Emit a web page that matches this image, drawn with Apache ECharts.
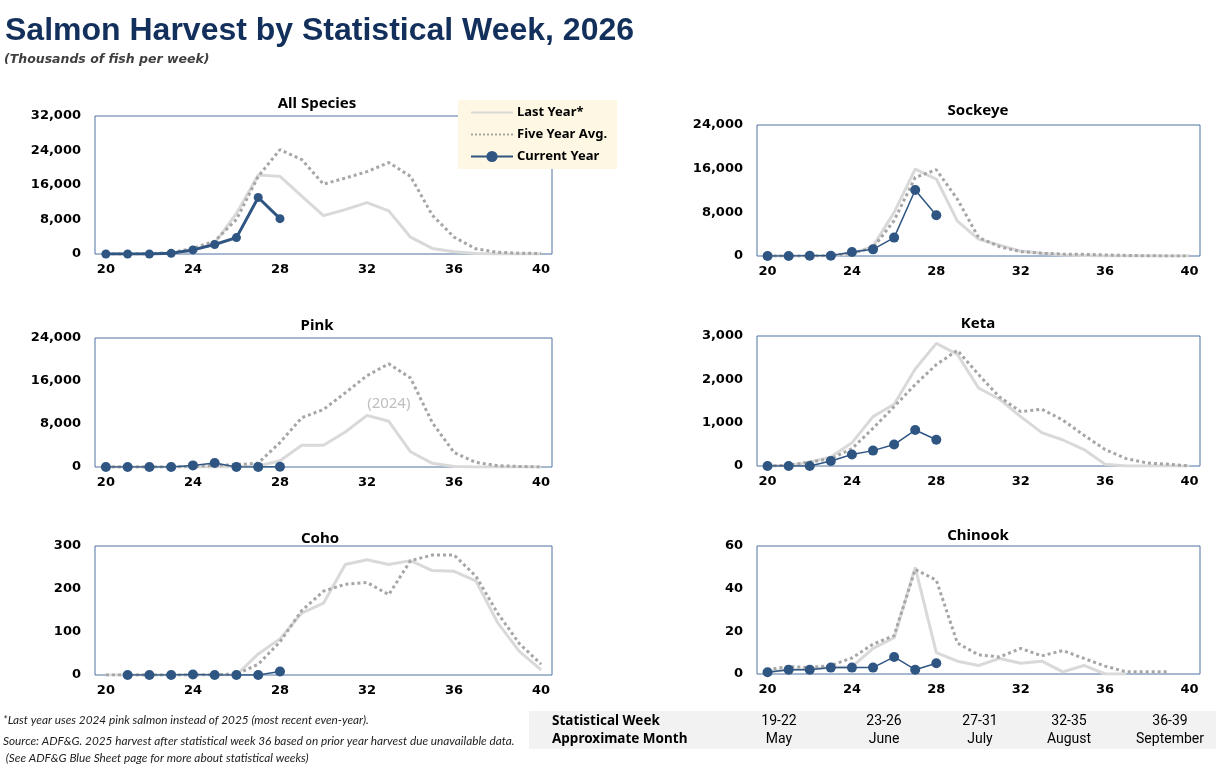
<!DOCTYPE html>
<html>
<head>
<meta charset="utf-8">
<title>Salmon Harvest by Statistical Week, 2026</title>
<script src="https://cdn.jsdelivr.net/npm/echarts@6/dist/echarts.min.js"></script>
<style>
    html, body { margin: 0; padding: 0; background: #fff; }
    #chart { width: 1216px; height: 770px; }
</style>
</head>
<body>
<div id="chart"></div>
<script>
// statistical weeks on the x axis
const weeks = ['20', '21', '22', '23', '24', '25', '26', '27', '28', '29', '30',
    '31', '32', '33', '34', '35', '36', '37', '38', '39', '40'];

// All Species
const allLast = [0, 0, 0, 200, 800, 2500, 9400, 18300, 18000, 13400, 8900, 10300, 11900, 10000, 3900, 1300, 500, 100, 0, 0, 0];
const allFive = [0, 0, 100, 300, 1300, 3000, 8000, 18000, 24200, 21900, 16200, 17600, 19100, 21200, 18000, 9000, 3900, 1200, 400, 200, 100];
const allCur = [0, 0, 0, 150, 950, 2200, 3800, 13100, 8200];

// Sockeye
const sockLast = [0, 0, 0, 100, 400, 1800, 8000, 15900, 14100, 6400, 3100, 2000, 900, 500, 200, 100, 0, 0, 0, 0, 0];
const sockFive = [0, 0, 0, 100, 500, 1500, 6500, 14400, 15800, 10400, 3400, 1700, 800, 500, 350, 300, 200, 100, 50, 0, 0];
const sockCur = [0, 0, 50, 50, 730, 1220, 3370, 12100, 7470];

// Pink (last year = 2024)
const pinkLast = [0, 0, 0, 0, 0, 0, 100, 200, 1170, 4060, 4060, 6500, 9600, 8500, 2830, 680, 100, 0, 0, 0, 0];
const pinkFive = [0, 0, 0, 0, 100, 300, 430, 740, 4550, 9170, 10700, 13800, 17000, 19200, 16550, 8250, 2700, 860, 250, 100, 0];
const pinkCur = [0, 0, 0, 0, 300, 740, 20, 20, 30];

// Keta
const ketaLast = [0, 10, 90, 210, 535, 1140, 1425, 2240, 2830, 2575, 1800, 1540, 1140, 770, 600, 380, 40, 0, 0, 0, 0];
const ketaFive = [0, 20, 90, 170, 400, 870, 1370, 1880, 2340, 2670, 2110, 1590, 1255, 1310, 1060, 710, 380, 170, 70, 40, 0];
const ketaCur = [0, 0, 0, 115, 265, 355, 495, 830, 605];

// Coho
const cohoLast = [0, 0, 0, 0, 0, 0, 0, 49, 84, 144, 167, 257, 268, 257, 266, 243, 241, 219, 122, 55, 12];
const cohoFive = [0, 0, 0, 0, 0, 1, 2, 25, 77, 150, 195, 211, 215, 187, 266, 279, 279, 230, 144, 73, 25];
const cohoCur = [null, 0, 0, 0, 1, 0, 0, 0, 8];

// Chinook
const chinLast = [1, 2, 2.5, 3, 3.3, 12, 17, 50, 10, 6, 4, 7.3, 5, 6, 1, 4, 0, 0, null, null, null];
const chinFive = [2, 3.5, 3, 4, 7.5, 14, 18, 49, 44, 14.5, 9, 8, 12, 8.5, 11, 7.3, 3.7, 1, 1, 1, null];
const chinCur = [0.8, 2, 2, 3, 3, 3, 8, 2, 5];

// bottom table
const weekRanges = ['19-22', '23-26', '27-31', '32-35', '36-39'];
const monthNames = ['May', 'June', 'July', 'August', 'September'];

const panels = [
    { name: 'All Species', last: allLast, five: allFive, cur: allCur, max: 32000, step: 8000,
      grid: { left: 95, top: 116, width: 457, height: 138 }, title: [317, 104], thick: true },
    { name: 'Sockeye', last: sockLast, five: sockFive, cur: sockCur, max: 24000, step: 8000,
      grid: { left: 757, top: 125, width: 443, height: 131 }, title: [978, 111] },
    { name: 'Pink', last: pinkLast, five: pinkFive, cur: pinkCur, max: 24000, step: 8000,
      grid: { left: 95, top: 338, width: 457, height: 129 }, title: [317, 326], note: 13 },
    { name: 'Keta', last: ketaLast, five: ketaFive, cur: ketaCur, max: 3000, step: 1000,
      grid: { left: 757, top: 336, width: 443, height: 130 }, title: [978, 324] },
    { name: 'Coho', last: cohoLast, five: cohoFive, cur: cohoCur, max: 300, step: 100,
      grid: { left: 95, top: 546, width: 457, height: 129 }, title: [320, 539] },
    { name: 'Chinook', last: chinLast, five: chinFive, cur: chinCur, max: 60, step: 20,
      grid: { left: 757, top: 546, width: 443, height: 128 }, title: [978, 536] }
];

const BLUE = '#2f5683';
const LIGHT = '#d9d9d9';
const DOT = '#a6a6a6';
const tickFont = { fontFamily: 'DejaVu Sans', fontWeight: 'bold', fontSize: 13, color: '#000' };

const grids = [], xAxes = [], yAxes = [], series = [], graphics = [];

panels.forEach(function (p, i) {
    grids.push(Object.assign({ show: true, borderColor: '#4f72a0', borderWidth: 1 }, p.grid));
    xAxes.push({
        type: 'category', gridIndex: i, data: weeks, boundaryGap: true,
        axisLine: { show: false }, axisTick: { show: false },
        axisLabel: Object.assign({ interval: 3, margin: 9 }, tickFont)
    });
    yAxes.push({
        type: 'value', gridIndex: i, min: 0, max: p.max, interval: p.step,
        axisLine: { show: false }, axisTick: { show: false }, splitLine: { show: false },
        axisLabel: Object.assign({ margin: 14 }, tickFont)
    });

    const last = {
        name: 'Last Year*', type: 'line', xAxisIndex: i, yAxisIndex: i, data: p.last,
        symbol: 'none', lineStyle: { color: LIGHT, width: 3 }, itemStyle: { color: LIGHT }, z: 2
    };
    // pink panel carries a "(2024)" note above last year's line
    if (p.note !== undefined) {
        last.markPoint = {
            symbol: 'circle', symbolSize: 1, itemStyle: { color: 'rgba(0,0,0,0)' },
            label: { show: true, formatter: '(2024)', position: 'top', distance: 10,
                color: '#bfbfbf', fontSize: 15, fontFamily: 'Noto Sans' },
            data: [{ coord: [weeks[p.note], p.last[p.note]] }]
        };
    }
    series.push(last);
    series.push({
        name: 'Five Year Avg.', type: 'line', xAxisIndex: i, yAxisIndex: i, data: p.five,
        symbol: 'none', lineStyle: { color: DOT, width: 3, type: 'dotted' }, itemStyle: { color: DOT }, z: 3
    });
    series.push({
        name: 'Current Year', type: 'line', xAxisIndex: i, yAxisIndex: i, data: p.cur,
        symbol: 'circle', symbolSize: p.thick ? 9 : 10, showSymbol: true,
        lineStyle: { color: BLUE, width: p.thick ? 3 : 1.5 }, itemStyle: { color: BLUE }, z: 4
    });

    graphics.push({
        type: 'text', x: p.title[0], y: p.title[1],
        style: { text: p.name, align: 'center', verticalAlign: 'middle',
            font: 'bold 15px "Noto Sans"', fill: '#000' }
    });
});

// heading
graphics.push({
    type: 'text', x: 5, y: 31,
    style: { text: 'Salmon Harvest by Statistical Week, 2026', verticalAlign: 'middle',
        font: 'bold 32px "Liberation Sans"', fill: '#12305b' }
});
graphics.push({
    type: 'text', x: 4, y: 60,
    style: { text: '(Thousands of fish per week)', verticalAlign: 'middle',
        font: 'italic bold 12.5px "DejaVu Sans"', fill: '#404040' }
});

// footnotes
const notes = [
    ['*Last year uses 2024 pink salmon instead of 2025 (most recent even-year).', 3, 720],
    ['Source: ADF&G. 2025 harvest after statistical week 36 based on prior year harvest due unavailable data.', 3, 741],
    [' (See ADF&G Blue Sheet page for more about statistical weeks)', 3, 758]
];
notes.forEach(function (n) {
    graphics.push({
        type: 'text', x: n[1], y: n[2],
        style: { text: n[0], verticalAlign: 'middle', font: 'italic 11.8px Lato', fill: '#222' }
    });
});

// statistical week / month table
graphics.push({ type: 'rect', shape: { x: 529, y: 711, width: 687, height: 38 }, style: { fill: '#f2f2f2' }, z: -1 });
graphics.push({ type: 'text', x: 552, y: 721,
    style: { text: 'Statistical Week', verticalAlign: 'middle', font: 'bold 13.5px "Noto Sans"', fill: '#000' } });
graphics.push({ type: 'text', x: 552, y: 739,
    style: { text: 'Approximate Month', verticalAlign: 'middle', font: 'bold 13.5px "Noto Sans"', fill: '#000' } });
const colX = [779, 884, 980, 1069, 1170];
weekRanges.forEach(function (w, k) {
    graphics.push({ type: 'text', x: colX[k], y: 721,
        style: { text: w, align: 'center', verticalAlign: 'middle', font: '14px Roboto', fill: '#000' } });
    graphics.push({ type: 'text', x: colX[k], y: 739,
        style: { text: monthNames[k], align: 'center', verticalAlign: 'middle', font: '14px Roboto', fill: '#000' } });
});

const hidden = { color: 'rgba(0,0,0,0)', borderWidth: 0, opacity: 0 };

const chart = echarts.init(document.getElementById('chart'));
const options = {
    animation: false,
    backgroundColor: '#fff',
    legend: {
        data: [
            { name: 'Last Year*', itemStyle: hidden },
            { name: 'Five Year Avg.', itemStyle: hidden },
            { name: 'Current Year' }
        ],
        orient: 'vertical',
        left: 458,
        top: 100,
        padding: [6, 10, 6, 12],
        itemWidth: 42,
        itemHeight: 14,
        itemGap: 9,
        backgroundColor: '#fdf7e3',
        textStyle: { fontFamily: 'Noto Sans', fontWeight: 'bold', fontSize: 13, color: '#000', padding: [0, 0, 0, -1] },
        selectedMode: false
    },
    grid: grids,
    xAxis: xAxes,
    yAxis: yAxes,
    series: series,
    graphic: graphics
};

chart.setOption(options);
</script>
</body>
</html>
